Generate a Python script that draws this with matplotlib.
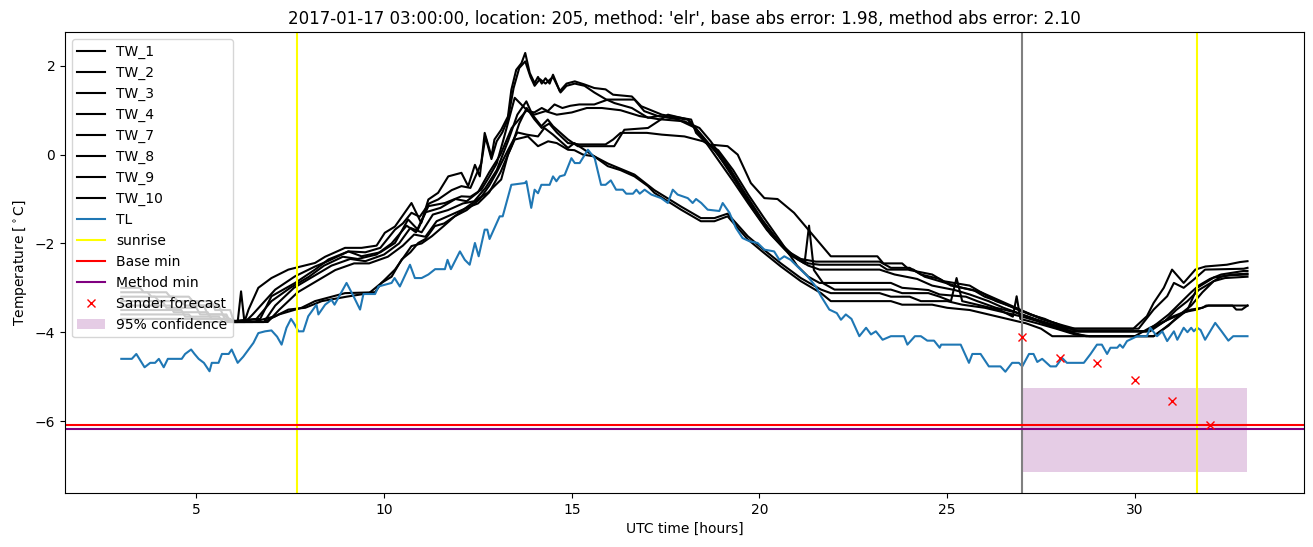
import matplotlib
matplotlib.use("Agg")
import matplotlib.pyplot as plt

title = "2017-01-17 03:00:00, location: 205, method: 'elr', base abs error: 1.98, method abs error: 2.10"

TW_1 = [(3.0,-3.0),(3.5,-3.0),(3.6,-3.1),(4.2,-3.1),(4.3,-3.2),(4.8,-3.2),(4.9,-3.3),(5.4,-3.3),(5.5,-3.5),(5.9,-3.5),(6.0,-3.77),(6.1,-3.77),(6.19,-3.08),(6.28,-3.77),(6.39,-3.49),(6.65,-3.0),(7.0,-2.78),(7.45,-2.59),(8.16,-2.44),(8.43,-2.3),(8.96,-2.1),(9.4,-2.1),(9.8,-2.05),(10.02,-1.76),(10.29,-1.62),(10.73,-1.09),(10.99,-1.54),(11.18,-1.01),(11.44,-0.86),(11.71,-0.49),(12.06,-0.41),(12.24,-0.71),(12.42,-0.23),(12.55,-0.49),(12.68,0.49),(12.86,-0.04),(12.94,0.34),(13.12,0.56),(13.3,0.86),(13.39,1.46),(13.52,1.91),(13.66,2.06),(13.76,2.29),(13.88,1.84),(14.01,1.61),(14.1,1.75),(14.2,1.6),(14.3,1.72),(14.41,1.6),(14.5,1.8),(14.68,1.43),(14.86,1.6),(15.08,1.65),(15.34,1.58),(15.6,1.5),(15.9,1.47),(16.1,1.35),(16.6,1.31),(16.85,1.09),(17.4,0.9),(18.18,0.79),(18.31,0.49),(18.62,0.23),(19.15,0.19),(19.42,0.0),(19.77,-0.64),(20.13,-0.98),(20.48,-1.0),(20.92,-1.31),(21.37,-1.76),(21.9,-2.29),(23.14,-2.29),(23.3,-2.45),(23.8,-2.45),(24.0,-2.6),(24.6,-2.7),(24.9,-2.85),(25.6,-2.95),(25.9,-3.1),(26.3,-3.25),(26.7,-3.4),(27.1,-3.55),(27.5,-3.7),(27.9,-3.8),(28.2,-3.92),(29.96,-3.92),(30.32,-3.64),(30.5,-3.34),(30.77,-3.0),(30.99,-2.59),(31.3,-2.89),(31.61,-2.59),(31.88,-2.52),(32.45,-2.48),(32.8,-2.42),(33.0,-2.4)]

TW_2 = [(3.0,-3.1),(3.7,-3.1),(3.8,-3.2),(4.4,-3.2),(4.5,-3.3),(5.0,-3.3),(5.1,-3.4),(5.6,-3.4),(5.7,-3.6),(6.0,-3.77),(6.3,-3.77),(6.5,-3.6),(7.1,-3.04),(7.63,-2.74),(8.16,-2.52),(8.5,-2.4),(9.05,-2.18),(9.5,-2.2),(9.9,-2.1),(10.29,-1.69),(10.5,-1.55),(10.73,-1.31),(10.95,-1.4),(11.2,-1.1),(11.44,-1.01),(11.8,-0.8),(12.06,-0.71),(12.3,-0.75),(12.59,-0.19),(12.7,0.4),(12.86,-0.1),(13.0,0.3),(13.15,0.5),(13.3,0.8),(13.45,1.5),(13.6,1.95),(13.76,2.1),(13.9,1.75),(14.01,1.55),(14.15,1.7),(14.3,1.6),(14.5,1.75),(14.7,1.4),(14.86,1.55),(15.08,1.6),(15.34,1.55),(15.6,1.4),(15.9,1.25),(16.14,1.16),(16.6,1.05),(17.03,0.83),(17.3,0.87),(17.8,0.8),(18.3,0.6),(18.8,0.0),(19.3,-0.6),(19.7,-1.1),(20.2,-1.7),(20.7,-2.15),(21.1,-2.35),(21.5,-2.41),(23.2,-2.41),(23.5,-2.55),(24.0,-2.55),(24.3,-2.7),(24.8,-2.8),(25.1,-2.95),(25.7,-3.05),(26.0,-3.2),(26.5,-3.35),(26.9,-3.5),(27.3,-3.62),(27.7,-3.75),(28.1,-3.85),(28.4,-3.92),(30.1,-3.92),(30.5,-3.49),(30.86,-3.19),(31.04,-2.89),(31.3,-3.0),(31.56,-2.82),(31.87,-2.59),(32.9,-2.57),(33.0,-2.55)]

TW_3 = [(3.0,-3.2),(3.9,-3.2),(4.0,-3.3),(4.6,-3.3),(4.7,-3.4),(5.2,-3.4),(5.3,-3.6),(5.8,-3.6),(5.9,-3.77),(6.7,-3.7),(7.0,-3.19),(7.63,-2.89),(8.16,-2.59),(8.52,-2.36),(9.05,-2.18),(9.4,-2.29),(9.9,-2.2),(10.29,-1.99),(10.64,-1.46),(10.9,-1.69),(11.18,-1.16),(11.62,-1.09),(12.06,-0.94),(12.3,-0.95),(12.59,-0.79),(12.8,-0.5),(13.0,-0.2),(13.2,0.4),(13.48,1.28),(13.83,0.98),(14.0,0.95),(14.2,1.05),(14.36,0.98),(14.54,1.13),(14.75,1.05),(14.96,1.1),(15.2,1.13),(15.6,1.13),(15.96,1.24),(16.67,1.24),(16.93,0.98),(17.29,0.87),(18.09,0.79),(18.4,0.5),(18.9,0.0),(19.4,-0.65),(19.8,-1.2),(20.3,-1.8),(20.8,-2.25),(21.3,-2.45),(21.6,-2.48),(23.2,-2.48),(23.4,-2.59),(24.1,-2.59),(24.4,-2.75),(25.0,-2.9),(25.4,-3.0),(25.9,-3.1),(26.3,-3.3),(26.8,-3.45),(27.2,-3.6),(27.6,-3.7),(28.0,-3.85),(28.5,-3.98),(30.3,-3.98),(30.6,-3.8),(30.9,-3.6),(31.2,-3.35),(31.5,-3.1),(31.7,-2.95),(32.0,-2.8),(32.3,-2.7),(32.9,-2.62),(33.0,-2.62)]

TW_4 = [(3.0,-3.3),(4.1,-3.3),(4.2,-3.45),(5.0,-3.45),(5.1,-3.6),(5.7,-3.6),(5.8,-3.77),(6.8,-3.77),(7.1,-3.4),(7.6,-3.0),(8.2,-2.7),(8.6,-2.5),(9.1,-2.35),(9.5,-2.4),(10.0,-2.25),(10.4,-2.0),(10.7,-1.65),(11.0,-1.75),(11.3,-1.35),(11.7,-1.25),(12.1,-1.1),(12.4,-1.05),(12.7,-0.75),(13.0,-0.35),(13.3,0.3),(13.55,0.9),(13.79,1.2),(13.95,0.9),(14.19,0.64),(14.36,0.79),(14.5,0.64),(14.9,0.34),(15.16,0.19),(16.13,0.19),(16.4,0.56),(17.03,0.6),(17.3,0.75),(17.56,0.9),(18.1,0.79),(18.35,0.5),(18.8,0.1),(19.2,-0.35),(19.6,-0.9),(20.0,-1.4),(20.5,-1.95),(21.0,-2.35),(21.3,-2.5),(21.6,-2.59),(23.2,-2.59),(23.6,-2.7),(24.2,-2.8),(24.6,-2.95),(25.2,-3.05),(25.6,-3.15),(26.1,-3.3),(26.5,-3.45),(27.0,-3.6),(27.4,-3.72),(27.9,-3.85),(28.3,-3.98),(30.4,-3.98),(30.8,-3.75),(31.1,-3.5),(31.4,-3.3),(31.7,-3.05),(32.0,-2.9),(32.3,-2.75),(32.6,-2.7),(33.0,-2.68)]

TW_7 = [(3.0,-3.4),(4.3,-3.4),(4.4,-3.55),(5.3,-3.55),(5.4,-3.7),(5.9,-3.7),(6.0,-3.77),(6.9,-3.77),(7.2,-3.5),(7.7,-3.1),(8.3,-2.8),(8.7,-2.6),(9.2,-2.45),(9.6,-2.45),(10.1,-2.3),(10.5,-2.05),(10.8,-1.8),(11.1,-1.85),(11.4,-1.5),(11.8,-1.35),(12.2,-1.2),(12.5,-1.1),(12.8,-0.85),(13.1,-0.4),(13.4,0.2),(13.6,0.7),(13.8,1.05),(14.0,0.8),(14.2,0.6),(14.4,0.7),(14.6,0.5),(14.9,0.26),(15.2,0.23),(15.9,0.23),(16.1,0.34),(16.3,0.49),(17.0,0.49),(17.4,0.45),(18.0,0.41),(18.5,0.3),(18.9,0.1),(19.3,-0.35),(19.7,-0.9),(20.1,-1.4),(20.6,-2.0),(21.0,-2.5),(21.3,-2.75),(21.6,-2.89),(23.5,-2.89),(23.8,-3.0),(24.5,-3.05),(24.8,-3.15),(25.5,-3.2),(25.8,-3.3),(26.3,-3.45),(26.8,-3.55),(27.3,-3.7),(27.8,-3.85),(28.3,-4.0),(28.7,-4.09),(30.5,-4.09),(30.9,-3.85),(31.2,-3.6),(31.5,-3.4),(31.8,-3.1),(32.1,-2.85),(32.4,-2.78),(33.0,-2.75)]

TW_8 = [(3.0,-3.5),(4.6,-3.5),(4.7,-3.65),(5.6,-3.65),(5.7,-3.77),(6.6,-3.7),(7.0,-3.3),(7.5,-3.0),(8.0,-2.75),(8.4,-2.5),(8.9,-2.3),(9.3,-2.35),(9.8,-2.25),(10.2,-2.0),(10.6,-1.6),(10.85,-1.75),(11.1,-1.3),(11.5,-1.2),(11.9,-1.0),(12.2,-1.05),(12.5,-0.85),(12.8,-0.4),(13.1,0.0),(13.4,0.6),(13.8,1.0),(14.0,0.9),(14.3,0.98),(14.6,0.9),(15.0,0.95),(15.4,1.05),(15.8,1.05),(16.3,1.0),(16.8,0.87),(17.3,0.8),(18.0,0.75),(18.4,0.6),(18.7,0.3),(19.2,-0.3),(19.6,-0.85),(20.1,-1.5),(20.5,-1.95),(20.9,-2.3),(21.2,-2.45),(21.32,-1.6),(21.45,-2.6),(21.7,-2.9),(22.0,-3.04),(23.5,-3.04),(23.8,-3.12),(24.5,-3.12),(24.8,-3.2),(25.1,-3.3),(25.25,-2.78),(25.4,-3.3),(25.9,-3.4),(26.4,-3.5),(26.75,-3.65),(26.85,-3.19),(26.95,-3.7),(27.4,-3.8),(27.9,-3.92),(28.4,-4.05),(28.8,-4.09),(30.5,-4.09),(30.8,-3.9),(31.1,-3.7),(31.4,-3.5),(31.66,-3.0),(32.1,-2.77),(32.5,-2.72),(33.0,-2.7)]

TW_9 = [(3.0,-3.6),(4.8,-3.6),(4.9,-3.7),(5.8,-3.7),(5.9,-3.77),(6.8,-3.77),(7.2,-3.6),(7.8,-3.45),(8.16,-3.3),(8.96,-3.12),(9.76,-3.1),(9.93,-2.89),(10.29,-2.59),(10.73,-2.06),(11.0,-2.0),(11.27,-1.84),(11.6,-1.6),(11.88,-1.39),(12.2,-1.25),(12.55,-1.0),(12.8,-0.7),(13.0,-0.4),(13.3,0.1),(13.55,0.5),(13.8,0.45),(14.1,0.41),(14.27,0.6),(14.5,0.45),(14.9,0.15),(15.07,0.26),(15.6,-0.04),(15.96,-0.2),(16.67,-0.45),(17.2,-0.8),(17.91,-1.17),(18.44,-1.43),(18.8,-1.43),(19.15,-1.33),(19.69,-1.84),(20.1,-2.13),(20.57,-2.45),(21.1,-2.78),(21.64,-3.04),(21.9,-3.12),(23.2,-3.12),(23.5,-3.2),(24.0,-3.2),(24.3,-3.3),(25.0,-3.3),(25.4,-3.38),(26.0,-3.45),(26.5,-3.55),(27.0,-3.65),(27.4,-3.75),(27.8,-3.88),(28.2,-3.98),(30.3,-3.98),(30.7,-3.8),(31.0,-3.65),(31.3,-3.55),(31.65,-3.49),(31.96,-3.4),(32.6,-3.4),(32.7,-3.49),(32.85,-3.49),(33.0,-3.4)]

TW_10 = [(3.0,-3.7),(5.0,-3.7),(5.1,-3.77),(6.5,-3.77),(7.1,-3.64),(7.45,-3.49),(7.9,-3.45),(8.34,-3.3),(9.0,-3.2),(9.6,-3.12),(9.93,-2.89),(10.2,-2.75),(10.47,-2.36),(10.7,-2.2),(10.91,-1.99),(11.1,-1.9),(11.35,-1.61),(11.6,-1.55),(11.88,-1.39),(12.24,-1.16),(12.5,-1.0),(12.76,-0.86),(12.95,-0.7),(13.12,-0.56),(13.3,0.0),(13.48,0.34),(13.83,0.41),(14.1,0.19),(14.37,0.3),(14.6,0.26),(14.9,0.11),(15.07,0.1),(15.3,0.0),(15.6,-0.04),(15.96,-0.26),(16.3,-0.35),(16.67,-0.49),(17.03,-0.71),(17.2,-0.86),(17.91,-1.24),(18.44,-1.5),(18.8,-1.5),(19.15,-1.39),(19.69,-1.91),(20.1,-2.2),(20.57,-2.52),(21.1,-2.85),(21.64,-3.12),(21.9,-3.3),(23.5,-3.3),(23.8,-3.38),(24.6,-3.38),(25.0,-3.45),(25.6,-3.5),(26.1,-3.6),(26.6,-3.7),(27.1,-3.8),(27.5,-3.92),(27.8,-4.09),(30.0,-4.09),(30.4,-3.9),(30.8,-3.75),(31.2,-3.6),(31.5,-3.49),(31.8,-3.45),(31.9,-3.4),(33.0,-3.4)]

TL = [(3.0,-4.6),(3.28,-4.6),(3.4,-4.49),(3.62,-4.79),(3.77,-4.69),(3.9,-4.69),(4.0,-4.6),(4.13,-4.79),(4.24,-4.6),(4.61,-4.6),(4.7,-4.49),(4.86,-4.39),(4.95,-4.49),(5.06,-4.6),(5.2,-4.69),(5.35,-4.88),(5.41,-4.69),(5.59,-4.69),(5.68,-4.49),(5.86,-4.49),(5.94,-4.39),(6.1,-4.69),(6.25,-4.55),(6.39,-4.39),(6.52,-4.24),(6.65,-4.02),(6.83,-3.98),(7.0,-3.96),(7.15,-4.1),(7.27,-4.28),(7.4,-3.9),(7.52,-3.7),(7.6,-3.8),(7.72,-3.98),(7.85,-3.98),(7.98,-3.64),(8.2,-3.38),(8.25,-3.6),(8.43,-3.38),(8.6,-3.27),(8.68,-3.38),(9.0,-2.89),(9.18,-3.18),(9.36,-3.49),(9.45,-3.14),(9.76,-3.14),(9.85,-2.97),(10.2,-2.89),(10.28,-2.78),(10.42,-2.97),(10.69,-2.48),(10.82,-2.78),(11.0,-2.78),(11.18,-2.7),(11.36,-2.58),(11.62,-2.58),(11.69,-2.37),(11.78,-2.58),(12.02,-2.18),(12.15,-2.37),(12.28,-2.48),(12.42,-1.99),(12.52,-2.29),(12.68,-1.69),(12.75,-1.69),(12.81,-1.9),(13.08,-1.39),(13.16,-1.39),(13.39,-0.68),(13.75,-0.64),(13.79,-0.6),(13.92,-1.2),(14.01,-0.79),(14.1,-0.87),(14.19,-0.68),(14.41,-0.68),(14.5,-0.49),(14.59,-0.6),(14.68,-0.49),(14.81,-0.46),(14.99,-0.08),(15.08,-0.19),(15.21,-0.19),(15.43,0.11),(15.61,-0.08),(15.78,-0.68),(15.9,-0.68),(16.04,-0.58),(16.18,-0.79),(16.36,-0.79),(16.45,-0.88),(16.63,-0.88),(16.72,-0.79),(16.81,-0.88),(16.94,-0.79),(17.12,-0.9),(17.38,-0.98),(17.56,-1.09),(17.69,-0.79),(17.82,-0.9),(18.09,-0.98),(18.22,-1.09),(18.31,-1.0),(18.45,-1.09),(18.62,-1.24),(18.93,-1.27),(19.02,-1.09),(19.2,-1.31),(19.37,-1.65),(19.55,-1.88),(19.73,-1.95),(19.95,-1.99),(20.13,-2.14),(20.39,-2.18),(20.53,-2.37),(20.66,-2.29),(20.83,-2.37),(21.01,-2.52),(21.28,-2.74),(21.5,-2.97),(21.64,-3.19),(21.86,-3.49),(22.06,-3.57),(22.17,-3.72),(22.3,-3.6),(22.45,-3.7),(22.66,-4.09),(22.84,-3.9),(22.97,-4.05),(23.1,-3.98),(23.28,-4.17),(23.5,-4.09),(23.85,-4.09),(23.94,-4.28),(24.14,-4.09),(24.3,-4.09),(24.47,-4.19),(24.65,-4.19),(24.8,-4.35),(24.84,-4.28),(25.36,-4.28),(25.58,-4.69),(25.67,-4.49),(25.89,-4.49),(26.11,-4.77),(26.42,-4.77),(26.55,-4.89),(26.73,-4.69),(26.91,-4.69),(27.0,-4.77),(27.18,-4.49),(27.3,-4.49),(27.4,-4.67),(27.53,-4.6),(27.75,-4.77),(27.9,-4.77),(28.06,-4.58),(28.19,-4.69),(28.64,-4.69),(28.82,-4.49),(28.99,-4.28),(29.12,-4.28),(29.26,-4.49),(29.35,-4.35),(29.53,-4.35),(29.6,-4.28),(29.68,-4.35),(29.79,-4.2),(30.06,-4.09),(30.32,-4.09),(30.41,-3.9),(30.59,-4.09),(30.73,-3.98),(30.86,-4.2),(31.04,-3.98),(31.13,-4.17),(31.3,-3.9),(31.4,-4.0),(31.5,-3.9),(31.57,-3.98),(31.66,-3.9),(31.75,-3.95),(31.87,-4.17),(32.14,-3.79),(32.31,-3.98),(32.49,-4.19),(32.62,-4.09),(33.0,-4.09)]

tw_series = {"TW_1": TW_1, "TW_2": TW_2, "TW_3": TW_3, "TW_4": TW_4,
             "TW_7": TW_7, "TW_8": TW_8, "TW_9": TW_9, "TW_10": TW_10}

sunrise_times = [7.67, 31.65]
forecast_time = 27.0
base_min = -6.08
method_min = -6.19
sander_t = [27, 28, 29, 30, 31, 32]
sander_v = [-4.10, -4.57, -4.70, -5.07, -5.54, -6.08]
conf_t = [27.0, 33.0]
conf_low = [-7.15, -7.15]
conf_high = [-5.25, -5.25]

fig = plt.figure(figsize=(13.13, 5.47), dpi=100)
ax = fig.add_axes([0.0495, 0.0987, 0.9435, 0.8428])

for name, pts in tw_series.items():
    ax.plot([p[0] for p in pts], [p[1] for p in pts], color="black", label=name)
ax.plot([p[0] for p in TL], [p[1] for p in TL], color="#1f77b4", label="TL")
ax.axvline(sunrise_times[0], color="yellow", label="sunrise")
ax.axvline(sunrise_times[1], color="yellow")
ax.axvline(forecast_time, color="grey")
ax.axhline(base_min, color="red", label="Base min")
ax.axhline(method_min, color="purple", label="Method min")
ax.plot(sander_t, sander_v, "x", color="red", linestyle="none", label="Sander forecast")
ax.fill_between(conf_t, conf_low, conf_high, color="purple", alpha=0.2, linewidth=0, label="95% confidence")

ax.set_title(title)
ax.set_xlabel("UTC time [hours]")
ax.set_ylabel(r"Temperature [$^\circ$C]")
ax.legend(loc="upper left")

fig.savefig("out.png", dpi=100)
